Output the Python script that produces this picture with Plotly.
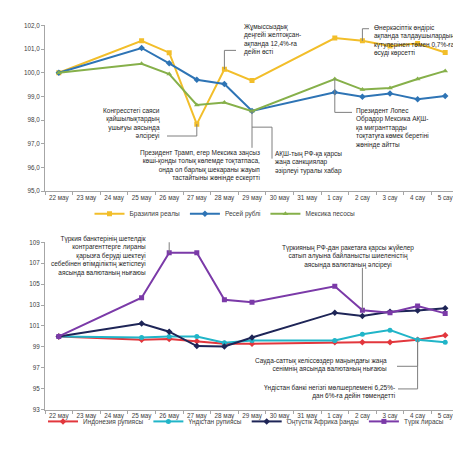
import plotly.graph_objects as go

# The page body has an 8px default margin, so the figure is drawn 8px smaller
# and every pixel position below is shifted by that amount.
OFF = 8
W, H = 461 - OFF, 450 - OFF

dates = ["22 мау", "23 мау", "24 мау", "25 мау", "26 мау", "27 мау", "28 мау", "29 мау",
         "30 мау", "31 мау", "1 сау", "2 сау", "3 сау", "4 сау", "5 сау"]

brazil = [100.0, None, None, 101.35, 100.85, 97.83, 100.15, 99.67, None, None, 101.47, 101.35, 101.13, 101.24, 100.86]
russia = [100.0, None, None, 101.05, 100.40, 99.71, 99.53, 98.39, None, None, 99.18, 98.99, 99.13, 98.88, 99.02]
mexico = [100.0, None, None, 100.38, 99.95, 98.64, 98.74, 98.38, None, None, 99.74, 99.29, 99.36, 99.74, 100.08]

indonesia = [100.0, None, None, 99.67, 99.76, 99.54, 99.30, 99.30, None, None, 99.45, 99.45, 99.45, 99.67, 100.10]
india = [100.0, None, None, 99.90, 100.00, 100.00, 99.40, 99.60, None, None, 99.60, 100.20, 100.60, 99.67, 99.45]
rand = [100.0, None, None, 101.23, 100.45, 99.08, 99.04, 99.90, None, None, 102.27, 101.95, 102.36, 102.48, 102.70]
lira = [100.0, None, None, 103.70, 108.00, 108.00, 103.50, 103.26, None, None, 104.80, 102.50, 102.27, 102.90, 102.20]

top_names = ["Бразилия реалы", "Ресей рублі", "Мексика песосы"]
bot_names = ["Индонезия рупиясы", "Үндістан рупиясы", "Оңтүстік Африка ранды", "Түрік лирасы"]

C_BR, C_RU, C_MX = "#F2BE2A", "#2E74B5", "#86B04A"
C_ID, C_IN, C_ZA, C_TR = "#E2373D", "#21B5C8", "#1E2557", "#7B3AA8"

FONT = "Liberation Sans, Arial, sans-serif"
AXC = "#A6A6A6"

# pixel layout (reference image coordinates)
X0, X1 = 45, 459
T_TOP, T_BOT = 21.7, 190.0   # top chart: 102 .. 95
B_TOP, B_BOT = 242.0, 412.0  # bottom chart: 109 .. 93
T_RANGE = (95, 102)
B_RANGE = (93, 109)
N = len(dates)
BW = (X1 - X0) / N


def fx(px):
    return (px - OFF) / W


def fy(py):
    return 1 - (py - OFF) / H


def px_x(px):
    return (px - X0) / BW - 0.5


def px_yt(py):
    return T_RANGE[1] - (py - T_TOP) / (T_BOT - T_TOP) * (T_RANGE[1] - T_RANGE[0])


def px_yb(py):
    return B_RANGE[1] - (py - B_TOP) / (B_BOT - B_TOP) * (B_RANGE[1] - B_RANGE[0])


fig = go.Figure()


def add(y, name, color, sym, xa, ya, leg):
    fig.add_trace(go.Scatter(
        x=dates, y=y, name=name, mode="lines+markers", connectgaps=True,
        line=dict(color=color, width=2),
        marker=dict(color=color, size=5, symbol=sym),
        xaxis=xa, yaxis=ya, legend=leg, hoverinfo="skip"))


add(brazil, top_names[0], C_BR, "square", "x", "y", "legend")
add(russia, top_names[1], C_RU, "diamond", "x", "y", "legend")
add(mexico, top_names[2], C_MX, "triangle-up", "x", "y", "legend")
add(indonesia, bot_names[0], C_ID, "diamond", "x2", "y2", "legend2")
add(india, bot_names[1], C_IN, "circle", "x2", "y2", "legend2")
add(rand, bot_names[2], C_ZA, "diamond", "x2", "y2", "legend2")
add(lira, bot_names[3], C_TR, "square", "x2", "y2", "legend2")

xcommon = dict(type="category", categoryorder="array", categoryarray=dates,
               range=[-0.5, N - 0.5], showline=True, linecolor=AXC, linewidth=1,
               ticks="outside", tickson="boundaries", ticklen=3, tickcolor=AXC,
               showgrid=False, zeroline=False,
               tickfont=dict(family=FONT, size=6.3, color="#404040"), tickangle=0)
ycommon = dict(showline=True, linecolor=AXC, linewidth=1, ticks="outside", ticklen=3,
               tickcolor=AXC, showgrid=False, zeroline=False,
               tickfont=dict(family=FONT, size=6.3, color="#404040"))

fig.update_layout(
    width=W, height=H, margin=dict(l=0, r=0, t=0, b=0),
    paper_bgcolor="white", plot_bgcolor="white",
    separators=", ",
    font=dict(family=FONT, size=6.5, color="#262626"),
    xaxis=dict(domain=[fx(X0), fx(X1)], anchor="y", **xcommon),
    yaxis=dict(domain=[fy(T_BOT), fy(T_TOP)], anchor="x", range=list(T_RANGE),
               dtick=1, tickformat=".1f", **ycommon),
    xaxis2=dict(domain=[fx(X0), fx(X1)], anchor="y2", **xcommon),
    yaxis2=dict(domain=[fy(B_BOT), fy(B_TOP)], anchor="x2", range=list(B_RANGE),
                tick0=93, dtick=2, **ycommon),
    legend=dict(orientation="h", x=fx(225), xanchor="center", y=fy(213), yanchor="middle",
                font=dict(family=FONT, size=6.5, color="#404040"), itemwidth=30,
                bgcolor="rgba(0,0,0,0)"),
    legend2=dict(orientation="h", x=fx(246), xanchor="center", y=fy(424), yanchor="middle",
                 font=dict(family=FONT, size=6.5, color="#404040"), itemwidth=30,
                 bgcolor="rgba(0,0,0,0)"),
    showlegend=True,
)

LC = "#7F7F7F"


def seg(x0, y0, x1, y1, xr="x", yr="y"):
    fig.add_shape(type="line", xref=xr, yref=yr, x0=x0, y0=y0, x1=x1, y1=y1,
                  line=dict(color=LC, width=1))


def note(text, px, py, xanchor, align, yanchor="top"):
    fig.add_annotation(text=text, xref="paper", yref="paper", x=fx(px), y=fy(py),
                       xanchor=xanchor, yanchor=yanchor, align=align, showarrow=False,
                       font=dict(family=FONT, size=6.5, color="#262626"))


i = dates.index
# --- top chart notes ---
note("Конгресстегі саяси<br>қайшылықтардың<br>ушығуы аясында<br>әлсіреуі", 162, 103, "right", "right")
seg(i("27 мау"), brazil[i("27 мау")], i("27 мау"), px_yt(134))
seg(i("27 мау"), px_yt(134), px_x(167), px_yt(134))

note("Президент Трамп, егер Мексика заңсыз<br>көші-қонды толық көлемде тоқтатпаса,<br>"
     "онда ол барлық шекараны жауып<br>тастайтыны жөнінде ескертті", 262, 145, "right", "right")
seg(i("29 мау"), russia[i("29 мау")], i("29 мау"), px_yt(146))

note("АҚШ-тың РФ-қа қарсы<br>жаңа санкциялар<br>әзірлеуі туралы хабар", 273, 146, "left", "left")
seg(i("29 мау"), px_yt(125), px_x(272), px_yt(125))
seg(px_x(272), px_yt(125), px_x(272), px_yt(157))

note("Жұмыссыздық<br>деңгейі желтоқсан-<br>ақпанда 12,4%-ға<br>дейін өсті", 242, 17, "left", "left")
seg(i("28 мау"), brazil[i("28 мау")], i("28 мау"), px_yt(47))
seg(i("28 мау"), px_yt(47), px_x(236), px_yt(47))

note("Өнеркәсіптік өндіріс<br>ақпанда талдаушылардың<br>күтулерінен төмен 0,7%-ға<br>өсуді көрсетті",
     372, 18, "left", "left")
seg(i("2 сау"), brazil[i("2 сау")], i("2 сау"), px_yt(25))
seg(i("2 сау"), px_yt(25), px_x(369), px_yt(25))

note("Президент Лопес<br>Обрадор Мексика АҚШ-<br>қа мигранттарды<br>тоқтатуға көмек беретіні<br>жөнінде айтты",
     354, 103, "left", "left")
seg(i("1 сау"), mexico[i("1 сау")], i("1 сау"), px_yt(110))
seg(i("1 сау"), px_yt(110), px_x(352), px_yt(110))

# --- bottom chart notes ---
note("Түркия банктерінің шетелдік<br>контрагенттерге лираны<br>қарызға беруді шектеуі<br>"
     "себебінен өтімділіктің жетіспеуі<br>аясында валютаның нығаюы", 148, 233, "right", "right")
seg(px_x(151), px_yb(238), i("26 мау"), px_yb(238), "x2", "y2")
seg(i("26 мау"), px_yb(238), i("26 мау"), lira[i("26 мау")], "x2", "y2")

note("Түркияның РФ-дан ракетаға қарсы жүйелер<br>сатып алуына байланысты шиеленістің<br>"
     "аясында валютаның әлсіреуі", 348, 242, "center", "center")
seg(i("2 сау"), px_yb(268), i("2 сау"), lira[i("2 сау")], "x2", "y2")

note("Сауда-саттық келіссөздер маңындағы жаңа<br>сенімнің аясында валютаның нығаюы",
     389, 357, "right", "right")
seg(px_x(397), px_yb(368), i("4 сау"), px_yb(368), "x2", "y2")
seg(i("4 сау"), px_yb(368), i("4 сау"), indonesia[i("4 сау")], "x2", "y2")

note("Үндістан банкі негізгі мөлшерлемені 6,25%-<br>дан 6%-ға дейін төмендетті",
     397, 384, "right", "right")
seg(px_x(398), px_yb(391), i("4 сау"), px_yb(391), "x2", "y2")
seg(i("4 сау"), px_yb(391), i("4 сау"), india[i("4 сау")], "x2", "y2")

# outer frame (top and left edges only)
FR = dict(color="#BFBFBF", width=1)
fig.add_shape(type="line", xref="paper", yref="paper", x0=fx(5), y0=fy(3),
              x1=fx(458), y1=fy(3), line=FR, layer="below")
fig.add_shape(type="line", xref="paper", yref="paper", x0=fx(5), y0=fy(3),
              x1=fx(5), y1=0, line=FR, layer="below")

fig.write_html("out.html")
